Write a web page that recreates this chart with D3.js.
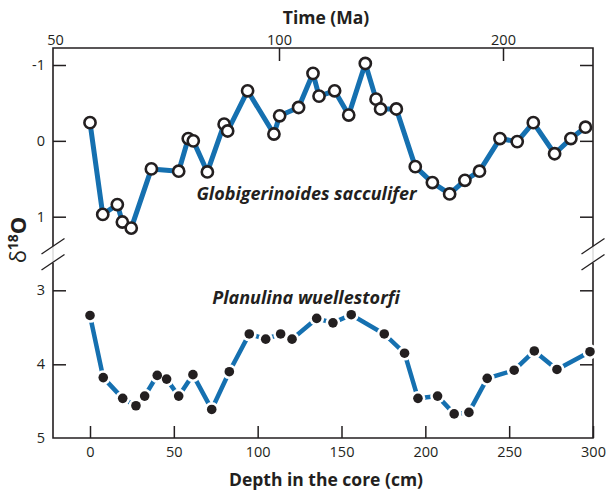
<!DOCTYPE html>
<html>
<head>
<meta charset="utf-8">
<script src="https://cdn.jsdelivr.net/npm/d3@7"></script>
<style>
  body { margin: 0; background: #fff; }
  svg { display: block; font-family: "Open Sans", "Noto Sans", sans-serif; }
</style>
</head>
<body>
<div id="chart"></div>
<script>
// Globigerinoides sacculifer (planktonic)
const gsDepth = [0, 7.6, 16.3, 19.3, 24.6, 36.6, 52.9, 58.6, 61.6, 70, 80, 82.1, 94, 109.7, 113.1, 124.4,
  133, 136.6, 145.9, 154.3, 164.2, 170.6, 173.3, 182.7, 194, 204.2, 214.5, 223.6, 232.3, 244.5, 254.8,
  264.4, 277.1, 286.8, 295.5];
const gsD18O = [-0.24, 0.97, 0.84, 1.07, 1.15, 0.37, 0.40, -0.03, 0.0, 0.41, -0.22, -0.13, -0.66, -0.09,
  -0.33, -0.44, -0.89, -0.59, -0.66, -0.34, -1.02, -0.55, -0.42, -0.42, 0.34, 0.55, 0.70, 0.52, 0.40,
  -0.03, 0.01, -0.24, 0.17, -0.03, -0.18];

// Planulina wuellestorfi (benthic)
const pwDepth = [0, 7.9, 19.5, 27.4, 32.6, 40.1, 45.7, 52.9, 61.4, 72.6, 83.1, 95, 104.8, 113.7, 120.5,
  135.2, 144.9, 155.8, 175.5, 187.6, 195.6, 207.3, 217.2, 226, 236.9, 253, 265, 278.5, 298.2];
const pwD18O = [3.34, 4.18, 4.46, 4.56, 4.43, 4.15, 4.20, 4.43, 4.14, 4.61, 4.10, 3.59, 3.66, 3.59, 3.66,
  3.38, 3.44, 3.33, 3.59, 3.85, 4.46, 4.43, 4.67, 4.65, 4.19, 4.08, 3.82, 4.07, 3.83];

const depthTicks = [0, 50, 100, 150, 200, 250, 300];
const timeTicks = [50, 100, 200];
const upperTicks = [-1, 0, 1];
const lowerTicks = [3, 4, 5];

const W = 606, H = 493;
const fLeft = 53, fRight = 593, fTop = 48, fBottom = 438;
const breakTop = 246, breakBottom = 263;
const blue = "#1570b0", ink = "#231f20";
const tickFont = 14.5;

const svg = d3.select("#chart").append("svg")
  .attr("width", W).attr("height", H);

const x = d3.scaleLinear().domain([0, 300]).range([90, 593]);
const t = d3.scaleLog().domain([50, 200]).range([55, 503]);
const yTop = d3.scaleLinear().domain([-1, 1]).range([65, 216.7]);
const yBot = d3.scaleLinear().domain([3, 5]).range([290.3, 438.3]);

// frame
const frame = svg.append("g").attr("stroke", ink).attr("stroke-width", 1.6).attr("fill", "none");
frame.append("path").attr("d", `M${fLeft},${breakTop}V${fTop}H${fRight}V${breakTop}`);
frame.append("path").attr("d", `M${fLeft},${breakBottom}V${fBottom}H${fRight}V${breakBottom}`);
[fLeft, fRight].forEach(px => {
  svg.append("line").attr("x1", px).attr("x2", px).attr("y1", breakTop).attr("y2", breakBottom)
    .attr("stroke", "#bbb").attr("stroke-width", 0.8);
  [0, 16].forEach(dy => {
    svg.append("line")
      .attr("x1", px - 11.5).attr("y1", 254 + dy)
      .attr("x2", px + 11.5).attr("y2", 238.5 + dy)
      .attr("stroke", ink).attr("stroke-width", 1.3);
  });
});

function styleAxis(g, fs) {
  g.select(".domain").remove();
  g.selectAll(".tick line").attr("stroke", ink).attr("stroke-width", 1.5);
  g.selectAll(".tick text").attr("fill", ink).attr("font-size", fs);
  g.attr("font-family", null).attr("font-size", null);
}

// bottom axis
svg.append("g").attr("transform", `translate(0,${fBottom})`)
  .call(d3.axisBottom(x).tickValues(depthTicks).tickSize(-12).tickPadding(9).tickFormat(d => String(d)))
  .call(g => styleAxis(g, tickFont));

// top axis (log time)
svg.append("g").attr("transform", `translate(0,${fTop})`)
  .call(d3.axisTop(t).tickValues(timeTicks).tickSize(-13).tickPadding(3).tickFormat(d => String(d)))
  .call(g => styleAxis(g, tickFont))
  .call(g => g.selectAll(".tick").filter(d => d === 50).select("line").remove());

// left axes
svg.append("g").attr("transform", `translate(${fLeft},0)`)
  .call(d3.axisLeft(yTop).tickValues(upperTicks).tickSize(-13).tickPadding(8).tickFormat(d => String(d)))
  .call(g => styleAxis(g, tickFont));
svg.append("g").attr("transform", `translate(${fLeft},0)`)
  .call(d3.axisLeft(yBot).tickValues(lowerTicks).tickSize(-13).tickPadding(8).tickFormat(d => String(d)))
  .call(g => styleAxis(g, tickFont))
  .call(g => g.selectAll(".tick").filter(d => d === 5).select("line").remove());

// right axes
svg.append("g").attr("transform", `translate(${fRight},0)`)
  .call(d3.axisRight(yTop).tickValues(upperTicks).tickSize(-13).tickFormat(""))
  .call(g => styleAxis(g, 0));
svg.append("g").attr("transform", `translate(${fRight},0)`)
  .call(d3.axisRight(yBot).tickValues([3, 4]).tickSize(-13).tickFormat(""))
  .call(g => styleAxis(g, 0));

// titles
svg.append("text").attr("x", 326).attr("y", 24).attr("text-anchor", "middle")
  .attr("font-size", 17.5).attr("font-weight", "bold").attr("fill", ink).text("Time (Ma)");
svg.append("text").attr("x", 326).attr("y", 486).attr("text-anchor", "middle")
  .attr("font-size", 17.5).attr("font-weight", "bold").attr("fill", ink).text("Depth in the core (cm)");

const yt = svg.append("text").attr("transform", "translate(26,240) rotate(-90)")
  .attr("text-anchor", "middle").attr("fill", ink);
yt.append("tspan").attr("font-size", 22).text("δ");
yt.append("tspan").attr("font-size", 14).attr("font-weight", "bold").attr("dy", -8).text("18");
yt.append("tspan").attr("font-size", 22).attr("font-weight", "bold").attr("dy", 8).text("O");

// series
const gs = gsDepth.map((d, i) => [d, gsD18O[i]]);
const pw = pwDepth.map((d, i) => [d, pwD18O[i]]);

svg.append("path").datum(gs)
  .attr("d", d3.line().x(d => x(d[0])).y(d => yTop(d[1])))
  .attr("fill", "none").attr("stroke", blue).attr("stroke-width", 5).attr("stroke-linejoin", "round");
svg.append("g").selectAll("circle").data(gs).join("circle")
  .attr("cx", d => x(d[0])).attr("cy", d => yTop(d[1])).attr("r", 5.6)
  .attr("fill", "#fff").attr("stroke", ink).attr("stroke-width", 2.6);

svg.append("path").datum(pw)
  .attr("d", d3.line().x(d => x(d[0])).y(d => yBot(d[1])))
  .attr("fill", "none").attr("stroke", blue).attr("stroke-width", 4.5);
svg.append("g").selectAll("circle").data(pw).join("circle")
  .attr("cx", d => x(d[0])).attr("cy", d => yBot(d[1])).attr("r", 7.4).attr("fill", "#fff");
svg.append("g").selectAll("circle").data(pw).join("circle")
  .attr("cx", d => x(d[0])).attr("cy", d => yBot(d[1])).attr("r", 4.8).attr("fill", ink);

// species labels
svg.append("text").attr("x", 306.5).attr("y", 200).attr("text-anchor", "middle")
  .attr("font-size", 18).attr("font-weight", "bold").attr("font-style", "italic").attr("fill", ink)
  .text("Globigerinoides sacculifer");
svg.append("text").attr("x", 306).attr("y", 304).attr("text-anchor", "middle")
  .attr("font-size", 18).attr("font-weight", "bold").attr("font-style", "italic").attr("fill", ink)
  .text("Planulina wuellestorfi");
</script>
</body>
</html>
